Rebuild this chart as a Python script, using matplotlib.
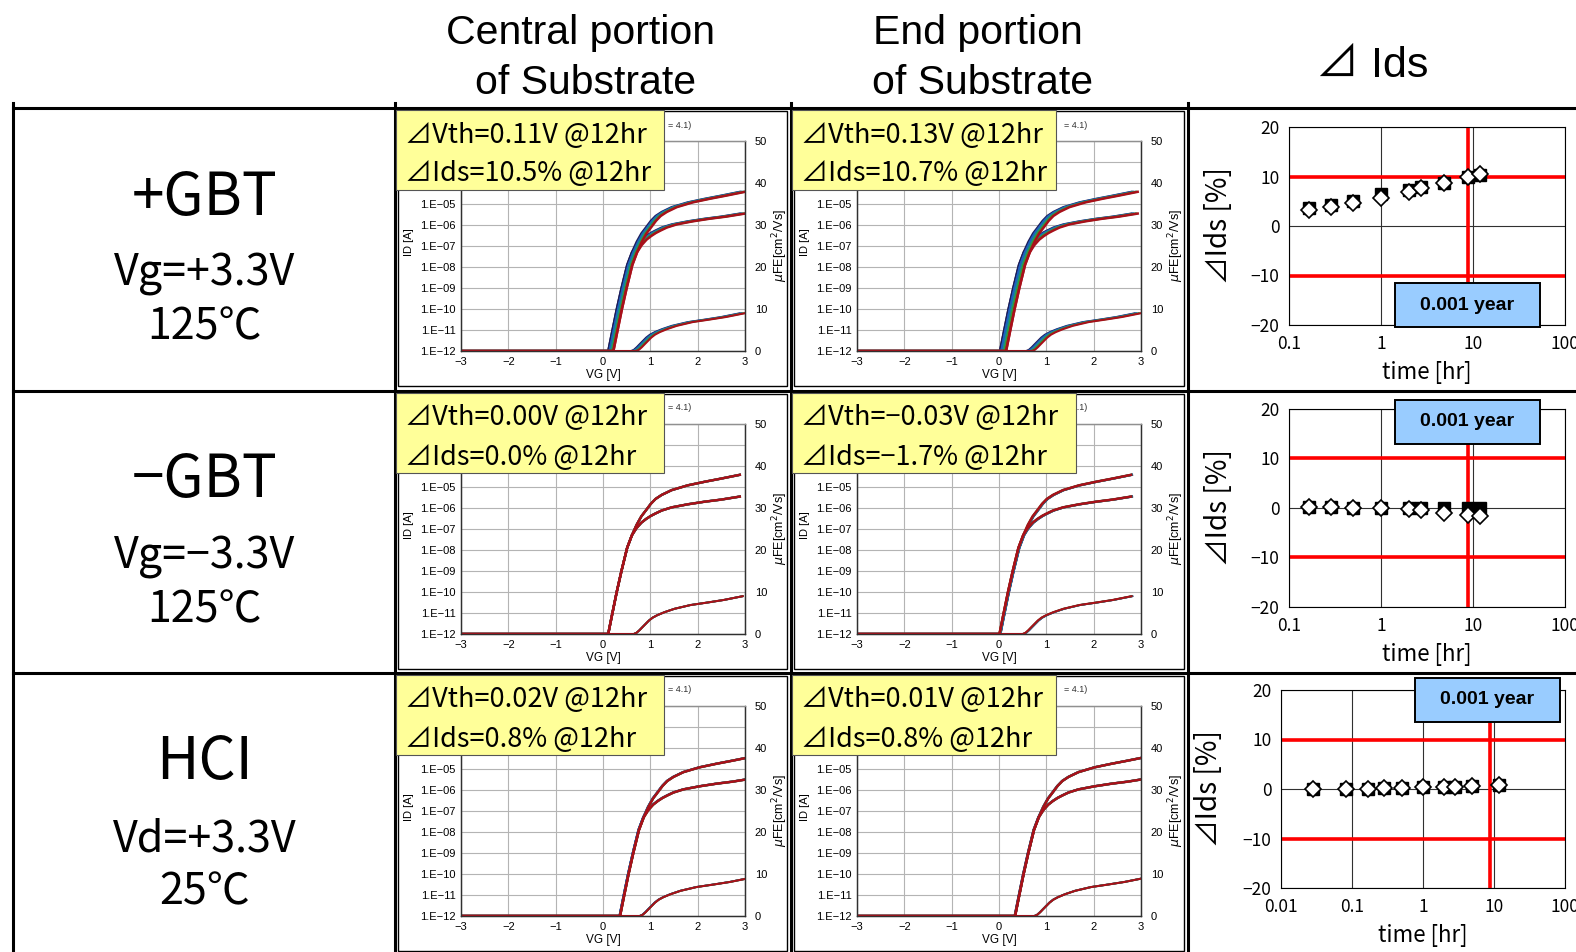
import matplotlib

matplotlib.use("Agg")
import matplotlib.pyplot as plt
from matplotlib.patches import Rectangle
from matplotlib.ticker import FixedLocator, FixedFormatter, NullLocator

W, H = 1576, 952
JP = ["Noto Sans CJK JP", "DejaVu Sans"]
plt.rcParams["font.family"] = ["Liberation Sans", "Noto Sans CJK JP", "DejaVu Sans"]

# ---- transfer curves (reference shape, last stress step) ----
VG_ID = [-3.0, 0.22, 0.30, 0.40, 0.50, 0.62, 0.72, 0.82, 0.92, 1.02, 1.12, 1.22, 1.35,
         1.56, 1.90, 2.26, 2.60, 3.00]
ID_HI = [1e-12, 1e-12, 7.9e-12, 1.0e-10, 1.0e-9, 1.26e-8, 5.0e-8, 1.58e-7, 4.0e-7,
         7.9e-7, 1.58e-6, 2.7e-6, 4.2e-6, 7.1e-6, 1.2e-5, 1.78e-5, 2.5e-5, 3.8e-5]
ID_LO = [1e-12, 1e-12, 7.9e-12, 1.0e-10, 1.0e-9, 1.26e-8, 5.0e-8, 1.12e-7, 2.0e-7,
         3.0e-7, 4.2e-7, 5.5e-7, 7.6e-7, 1.07e-6, 1.5e-6, 2.0e-6, 2.5e-6, 3.5e-6]
VG_MU = [-3.0, 0.70, 0.76, 0.82, 0.88, 0.95, 1.02, 1.10, 1.20, 1.35, 1.56, 1.90, 2.26,
         2.60, 3.00]
MU = [0, 0, 0.3, 0.9, 1.6, 2.4, 3.2, 3.9, 4.5, 5.2, 6.0, 6.9, 7.5, 8.1, 9.0]

# onset offsets per panel [row][col] and Vth offsets of the stress steps
ID_SHIFT = [[0.0, -0.07], [-0.11, -0.21], [0.14, 0.12]]
MU_SHIFT = [[0.0, 0.0], [-0.05, -0.2], [0.08, 0.05]]
STRESS_DV = [
    [[-0.11, -0.08, -0.05, -0.02, 0.0], [-0.13, -0.10, -0.06, -0.03, 0.0]],
    [[0.0, 0.0, 0.0, 0.0, 0.0], [0.02, 0.015, 0.01, 0.0, 0.0]],
    [[-0.01, -0.01, 0.0, 0.0, 0.0], [-0.01, 0.0, 0.0, 0.0, 0.0]],
]
STRESS_COLORS = ["#1c1c5a", "#1f5fbf", "#168c8c", "#3a9a30", "#a8101a"]

ROW_TITLES = ["+GBT", "\u2212GBT", "HCI"]
ROW_COND = ["Vg=+3.3V", "Vg=\u22123.3V", "Vd=+3.3V"]
ROW_TEMP = ["125\u2103", "125\u2103", "25\u2103"]
DVTH = [["0.11", "0.13"], ["0.00", "\u22120.03"], ["0.02", "0.01"]]
DIDS = [["10.5", "10.7"], ["0.0", "\u22121.7"], ["0.8", "0.8"]]
COL_HEAD = [("Central portion", "of Substrate"), ("End portion", "of Substrate")]

# ---- Ids drift vs stress time ----
T_GBT = [0.167, 0.283, 0.5, 1.0, 2.0, 2.75, 4.8, 8.8, 11.8]
T_HCI = [0.028, 0.083, 0.167, 0.28, 0.5, 1.0, 2.0, 2.8, 4.9, 11.7]
DIDS_CENTER = [
    [3.7, 4.2, 5.0, 6.4, 7.2, 7.9, 8.7, 10.0, 10.4],
    [0.2, 0.2, 0.1, 0.1, 0.1, 0.1, 0.0, 0.0, 0.0],
    [-0.1, 0.0, 0.1, 0.3, 0.3, 0.5, 0.5, 0.5, 0.7, 0.8],
]
DIDS_END = [
    [3.3, 3.9, 4.7, 5.7, 6.9, 7.6, 8.6, 10.0, 10.6],
    [0.3, 0.3, 0.0, -0.1, -0.2, -0.5, -1.0, -1.4, -1.7],
    [0.0, 0.0, 0.1, 0.2, 0.3, 0.5, 0.5, 0.5, 0.6, 0.8],
]
TIMES = [T_GBT, T_GBT, T_HCI]
LIMIT_HR = 8.76  # 0.001 year
DIDS_LIMIT = 10

fig = plt.figure(figsize=(W / 100, H / 100), dpi=100)


def ax_px(x0, y0, x1, y1, **kw):
    return fig.add_axes([x0 / W, 1 - y1 / H, (x1 - x0) / W, (y1 - y0) / H], **kw)


ov = ax_px(0, 0, W, H, zorder=10)
ov.set_xlim(0, W)
ov.set_ylim(H, 0)
ov.axis("off")
ov.patch.set_alpha(0)

ROW_TOP = [108, 391, 673]
ROW_H = 282
COL_X = [395, 791, 1188]

# table grid
for y in ROW_TOP:
    ov.plot([13, W], [y, y], color="black", lw=2.2, clip_on=False)
for x in [13] + COL_X:
    ov.plot([x, x], [103, H], color="black", lw=2.2, clip_on=False)

# headers
for c, (l1, l2) in enumerate(COL_HEAD):
    xc = (COL_X[c] + COL_X[c + 1]) / 2 - 12
    ov.text(xc, 33, l1, ha="center", va="center", fontsize=29.5)
    ov.text(xc + 5, 83, l2, ha="center", va="center", fontsize=29.5)
ov.text(1372, 66, "\u22bf Ids", ha="center", va="center", fontsize=31)

# row labels
for r in range(3):
    yt = ROW_TOP[r]
    ov.text(205, yt + 90, ROW_TITLES[r], ha="center", va="center", fontsize=42, family=JP)
    ov.text(205, yt + 166, ROW_COND[r], ha="center", va="center", fontsize=31, family=JP)
    ov.text(205, yt + 219, ROW_TEMP[r], ha="center", va="center", fontsize=31, family=JP)

# transfer-curve panels
BOX_W = [[268, 264], [268, 284], [268, 264]]
for r in range(3):
    for c in range(2):
        cx, yt = COL_X[c], ROW_TOP[r]
        ov.add_patch(Rectangle((cx + 3, yt + 3), COL_X[c + 1] - cx - 7, ROW_H - 7,
                               fill=False, ec="black", lw=1.0))
        ov.text(cx + 273, yt + 17, "= 4.1)", fontsize=6.5, va="center", color="#333333")
        ov.add_patch(Rectangle((cx + 1, yt + 2), BOX_W[r][c], 80, fc="#ffff99",
                               ec="#555555", lw=0.8, zorder=3))
        ov.text(cx + 10, yt + 27, "\u22bfVth=%sV @12hr" % DVTH[r][c], fontsize=19.5,
                va="center", family=JP, zorder=4)
        ov.text(cx + 10, yt + 66, "\u22bfIds=%s%% @12hr" % DIDS[r][c], fontsize=19.5,
                va="center", family=JP, zorder=4)

        x0 = cx + 66
        y0 = yt + 33
        ax = ax_px(x0, y0, x0 + 284, y0 + 210)
        mu = ax.twinx()
        for k, (dv, col) in enumerate(zip(STRESS_DV[r][c], STRESS_COLORS)):
            lw = 1.8 if k == len(STRESS_COLORS) - 1 else 1.6
            sh = ID_SHIFT[r][c] + dv
            vg = [v + sh if i else v for i, v in enumerate(VG_ID)]
            ax.plot(vg, ID_HI, color=col, lw=lw)
            ax.plot(vg, ID_LO, color=col, lw=lw)
            msh = MU_SHIFT[r][c] + dv
            mu.plot([v + msh if i else v for i, v in enumerate(VG_MU)], MU, color=col,
                    lw=lw - 0.3)
        ax.set_yscale("log")
        ax.set_ylim(1e-12, 1e-2)
        ax.set_xlim(-3, 3)
        decades = [10.0 ** k for k in range(-12, -1)]
        ax.yaxis.set_major_locator(FixedLocator(decades))
        # labels above 1E-05 sit under the yellow note
        ax.yaxis.set_major_formatter(FixedFormatter(
            ["1.E\u2212%02d" % -k if k <= -5 else "" for k in range(-12, -1)]))
        ax.yaxis.set_minor_locator(NullLocator())
        ax.set_xticks(range(-3, 4))
        ax.grid(True, color="#b4b4b4", lw=0.8)
        ax.tick_params(length=0, labelsize=8, pad=4)
        ax.set_xlabel("VG [V]", fontsize=8.5, labelpad=2)
        ax.set_ylabel("ID [A]", fontsize=8)
        ax.yaxis.set_label_coords(-0.165, 0.52)
        mu.set_ylim(0, 50)
        mu.set_yticks(range(0, 51, 10))
        mu.tick_params(length=0, labelsize=8, pad=7)
        mu.set_ylabel(r"$\mu$FE[cm$^2$/Vs]", fontsize=9)
        mu.yaxis.set_label_coords(1.09, 0.5)
        for a in (ax, mu):
            for s in a.spines.values():
                s.set_color("#303030")
                s.set_linewidth(0.9)
            a.spines["top"].set_color("#909090")

# Ids drift panels
AX_DIDS = [(1289, 127, 1565, 325), (1289, 409, 1565, 607), (1281, 690, 1565, 888)]
XLIM = [(0.1, 100), (0.1, 100), (0.01, 100)]
BLUE_BOX = [(1395, 283), (1395, 400), (1415, 678)]
for r in range(3):
    ax = ax_px(*AX_DIDS[r])
    ax.set_xscale("log")
    ax.set_xlim(*XLIM[r])
    ax.set_ylim(-20, 20)
    xt = [t for t in [0.01, 0.1, 1, 10, 100] if t >= XLIM[r][0]]
    ax.xaxis.set_major_locator(FixedLocator(xt))
    ax.xaxis.set_major_formatter(FixedFormatter([("%g" % t) for t in xt]))
    ax.xaxis.set_minor_locator(NullLocator())
    ax.set_yticks([-20, -10, 0, 10, 20])
    ax.grid(True, color="#303030", lw=0.8)
    ax.tick_params(length=0, labelsize=12.5, pad=7)
    for lab in ax.get_xticklabels() + ax.get_yticklabels():
        lab.set_family(JP)
    ax.axhline(DIDS_LIMIT, color="red", lw=2.6)
    ax.axhline(-DIDS_LIMIT, color="red", lw=2.6)
    ax.axvline(LIMIT_HR, color="red", lw=2.6)
    ax.plot(TIMES[r], DIDS_CENTER[r], "s", color="black", ms=8.5, ls="none")
    ax.plot(TIMES[r], DIDS_END[r], "D", mfc="white", mec="black", mew=1.2, ms=8.5, ls="none")
    ax.set_ylabel("\u22bfIds [%]", fontsize=20, family=JP)
    ax.yaxis.set_label_coords(-0.2, 0.5)
    ax.set_xlabel("time [hr]", fontsize=16, family=JP)
    ax.xaxis.set_label_coords(0.5, -0.18)
    for s in ax.spines.values():
        s.set_color("black")
    bx, by = BLUE_BOX[r]
    ov.add_patch(Rectangle((bx, by), 145, 44, fc="#99ccff", ec="black", lw=1.4, zorder=3))
    ov.text(bx + 72, by + 22, "0.001 year", ha="center", va="center", fontsize=14,
            weight="bold", zorder=4)

fig.savefig("out.png", dpi=100)
